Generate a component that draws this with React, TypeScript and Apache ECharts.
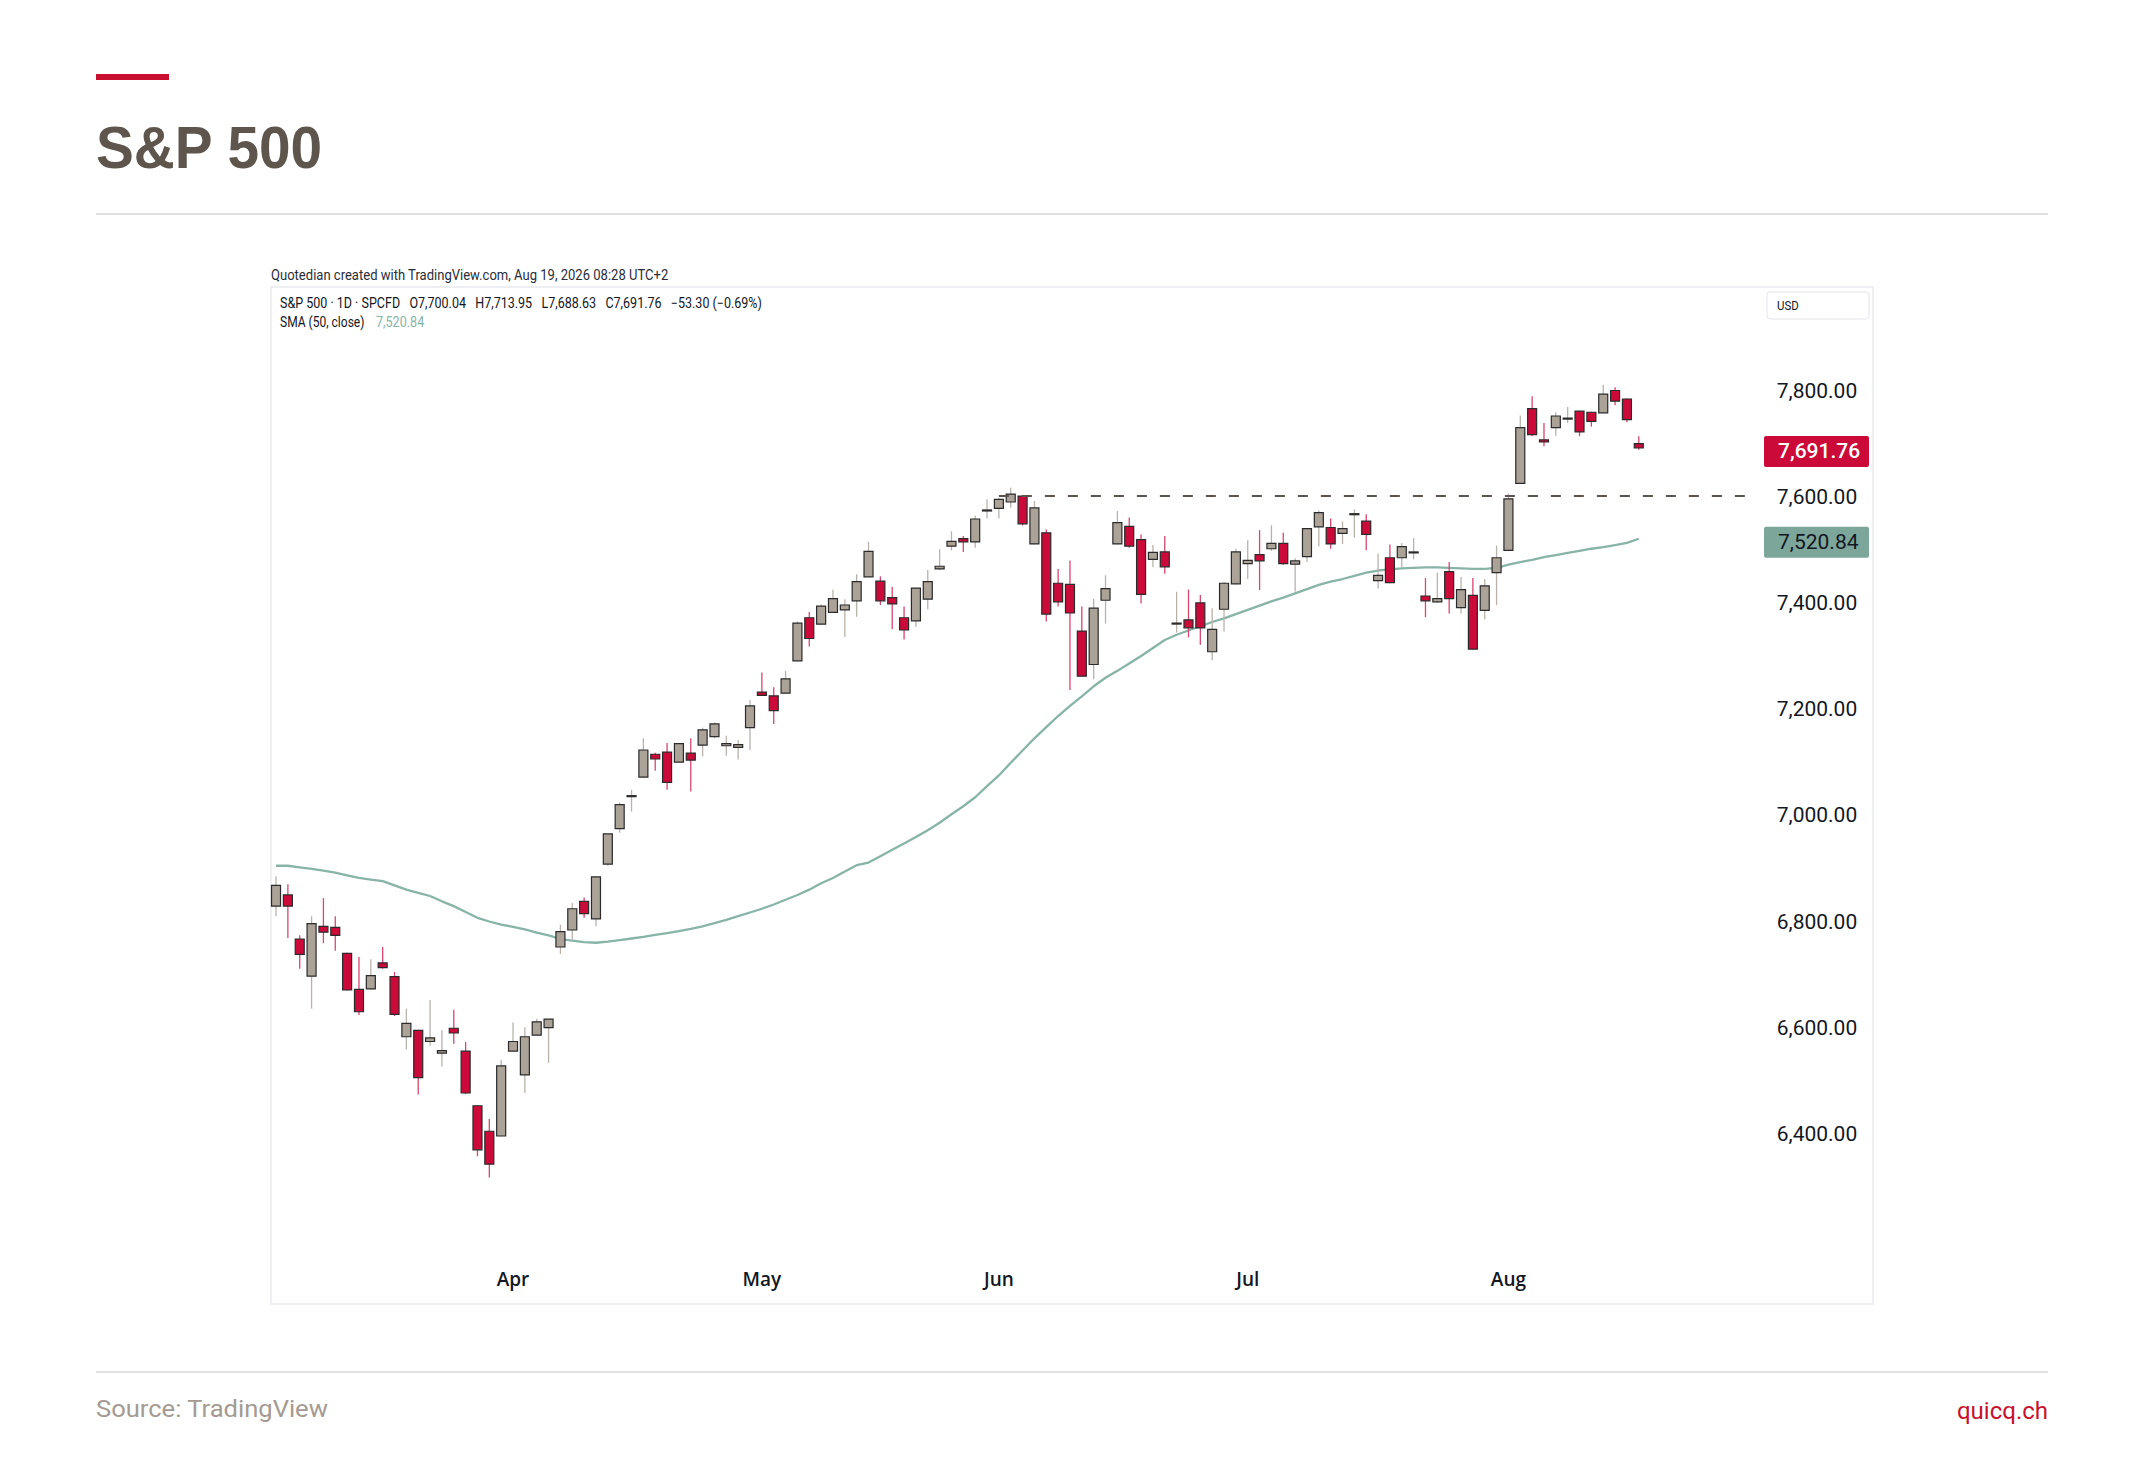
import React, { useEffect, useRef } from "react";
import * as echarts from "echarts";

const PAGE_W = 2145;
const PAGE_H = 1458;

const MONTH_NAMES = ["Jan", "Feb", "Mar", "Apr", "May", "Jun", "Jul", "Aug", "Sep", "Oct", "Nov", "Dec"];

// Trading days shown on the chart (2026)
const MAR_DAYS = [4, 5, 6, 9, 10, 11, 12, 13, 16, 17, 18, 19, 20, 23, 24, 25, 26, 27, 30, 31];
const APR_DAYS = [1, 2, 6, 7, 8, 9, 10, 13, 14, 15, 16, 17, 20, 21, 22, 23, 24, 27, 28, 29, 30];
const MAY_DAYS = [1, 4, 5, 6, 7, 8, 11, 12, 13, 14, 15, 18, 19, 20, 21, 22, 26, 27, 28, 29];
const JUN_DAYS = [1, 2, 3, 4, 5, 8, 9, 10, 11, 12, 15, 16, 17, 18, 22, 23, 24, 25, 26, 29, 30];
const JUL_DAYS = [1, 2, 6, 7, 8, 9, 10, 13, 14, 15, 16, 17, 20, 21, 22, 23, 24, 27, 28, 29, 30, 31];
const AUG_DAYS = [3, 4, 5, 6, 7, 10, 11, 12, 13, 14, 17, 18];

const pad = (n: number) => (n < 10 ? "0" + n : "" + n);
const DATES: string[] = [
  ...MAR_DAYS.map((d) => `2026-03-${pad(d)}`),
  ...APR_DAYS.map((d) => `2026-04-${pad(d)}`),
  ...MAY_DAYS.map((d) => `2026-05-${pad(d)}`),
  ...JUN_DAYS.map((d) => `2026-06-${pad(d)}`),
  ...JUL_DAYS.map((d) => `2026-07-${pad(d)}`),
  ...AUG_DAYS.map((d) => `2026-08-${pad(d)}`),
];
const RIGHT_PAD_SLOTS = 10; // empty space to the right of the last candle

const OPEN = [
  6829, 6850, 6767, 6697, 6791, 6789, 6740, 6672, 6673, 6722, 6696, 6583, 6595, 6574, 6552, 6599, 6556, 6453, 6405, 6396,
  6556, 6511, 6586, 6600, 6752, 6784, 6838, 6805, 6908, 6975, 7036, 7072, 7115, 7119, 7100, 7117, 7132, 7148, 7131, 7128, 7165,
  7232, 7225, 7230, 7291, 7372, 7360, 7382, 7387, 7404, 7449, 7441, 7410, 7372, 7366, 7407, 7464, 7507, 7521, 7515, 7574,
  7578, 7590, 7601, 7511, 7532, 7437, 7435, 7347, 7284, 7405, 7511, 7544, 7519, 7482, 7496, 7361, 7368, 7400, 7308, 7388, 7436,
  7474, 7491, 7502, 7512, 7473, 7487, 7543, 7542, 7531, 7567, 7554, 7442, 7485, 7485, 7495, 7413, 7402, 7459, 7391, 7414, 7386, 7457,
  7499, 7625, 7766, 7707, 7730, 7747.5, 7761, 7759, 7758, 7800, 7784, 7700.04,
];
const HIGH = [
  6885, 6870, 6774, 6810, 6844, 6810, 6741, 6733, 6729, 6752, 6705, 6636, 6596, 6652, 6595, 6634, 6573, 6454, 6428, 6539,
  6610, 6601, 6617, 6616, 6794, 6835, 6845, 6884, 6965, 7024, 7048, 7145, 7118, 7136, 7136, 7145, 7165, 7175, 7150, 7142, 7217,
  7269, 7241, 7272, 7365, 7383, 7397, 7425, 7407, 7454, 7515, 7450, 7430, 7393, 7428, 7462, 7501, 7535, 7526, 7564, 7595,
  7598, 7617, 7602, 7592, 7538, 7464, 7480, 7393, 7408, 7452, 7573, 7561, 7529, 7509, 7526, 7421, 7425, 7415, 7390, 7440, 7502,
  7518, 7537, 7546, 7532, 7484, 7540, 7574, 7559, 7553, 7576, 7567, 7493, 7510, 7513, 7522, 7447, 7457, 7477, 7449, 7447, 7445, 7508,
  7606, 7753, 7789, 7739, 7759, 7769, 7762, 7760, 7811, 7806, 7785, 7713.95,
];
const LOW = [
  6810, 6769, 6711, 6636, 6759, 6745, 6670, 6624, 6672, 6711, 6622, 6559, 6474, 6566, 6527, 6570, 6475, 6358, 6318, 6395,
  6555, 6477, 6585, 6534, 6739, 6766, 6807, 6791, 6905, 6967, 7007, 7072, 7084, 7048, 7100, 7045, 7111, 7145, 7112, 7105, 7123,
  7225, 7172, 7229, 7290, 7318, 7359, 7382, 7336, 7374, 7449, 7396, 7351, 7331, 7355, 7388, 7462, 7499, 7496, 7504, 7559,
  7559, 7579, 7546, 7510, 7365, 7393, 7236, 7262, 7256, 7361, 7510, 7504, 7399, 7467, 7455, 7344, 7335, 7321, 7292, 7346, 7435,
  7445, 7424, 7498, 7472, 7421, 7477, 7506, 7502, 7511, 7523, 7499, 7427, 7437, 7467, 7482, 7373, 7400, 7380, 7380, 7312, 7369, 7396,
  7499, 7624, 7714, 7695, 7715, 7739, 7714, 7732, 7758, 7772, 7740, 7688.63,
];
const CLOSE = [
  6868, 6829, 6738, 6796, 6780, 6774, 6671, 6630, 6698, 6713, 6625, 6608, 6506, 6581, 6557, 6590, 6477, 6370, 6343, 6528,
  6574, 6583, 6611, 6616, 6781, 6824, 6815, 6884, 6965, 7020, 7037, 7123, 7106, 7062, 7135, 7104, 7161, 7172, 7135, 7133, 7206,
  7226, 7197, 7257, 7362, 7333, 7394, 7408, 7396, 7440, 7497, 7404, 7398, 7349, 7428, 7440, 7469, 7516, 7515, 7558, 7575,
  7595, 7605, 7549, 7579, 7379, 7402, 7381, 7262, 7390, 7427, 7551, 7507, 7416, 7495, 7468, 7362, 7353, 7353, 7350, 7437, 7496,
  7480, 7479, 7512, 7474, 7479, 7540, 7570, 7511, 7540, 7568, 7529, 7452, 7438, 7506, 7496, 7404, 7408, 7408, 7425, 7313, 7432, 7485,
  7596, 7730, 7717, 7703, 7752, 7748, 7722, 7742, 7793, 7780, 7745.06, 7691.76,
];
const SMA50 = [
  6905, 6905, 6902, 6899, 6896, 6892, 6887, 6882, 6879, 6876, 6868, 6860, 6854, 6848, 6838, 6829, 6818, 6807, 6800, 6794,
  6790, 6785, 6779, 6774, 6767, 6764, 6761, 6760, 6762, 6765, 6768, 6771, 6775, 6778, 6782, 6786, 6791, 6797, 6803, 6810, 6817,
  6824, 6832, 6841, 6850, 6860, 6872, 6882, 6894, 6906, 6911, 6923, 6935, 6947, 6959, 6972, 6986, 7002, 7017, 7034, 7055,
  7075, 7099, 7122, 7145, 7166, 7187, 7206, 7224, 7243, 7259, 7272, 7286, 7300, 7315, 7330, 7340, 7348, 7356, 7364, 7371, 7379,
  7387, 7395, 7403, 7410, 7418, 7426, 7434, 7440, 7445, 7451, 7457, 7461, 7463, 7465, 7466, 7467, 7467, 7466, 7465, 7464, 7464, 7466,
  7472, 7477, 7481, 7486, 7490, 7494, 7498, 7502, 7505, 7509, 7513, 7520.84,
];

const RESISTANCE = 7601;
const RESISTANCE_FROM = 61;
const RESISTANCE_TO = 124;

const Y_MIN = 6200;
const Y_MAX = 8000;
const Y_STEP = 200;

const COLORS = {
  up: "#aba298",
  down: "#cc0a3a",
  border: "#2b2b2b",
  wickUp: "#b9b2aa",
  wickDown: "#d9466f",
  sma: "#88b4a7",
  smaBox: "#7da69b",
  text: "#131722",
  title: "#5e554c",
  accent: "#c8102e",
  rule: "#d6d6d6",
  frame: "#e8eaee",
  source: "#a39a92",
  dash: "#5b5450",
};

const fmt = (v: number) =>
  v.toLocaleString("en-US", { minimumFractionDigits: 2, maximumFractionDigits: 2 });

export default function App() {
  const ref = useRef<HTMLDivElement>(null);

  useEffect(() => {
    if (!ref.current) return;
    const chart = echarts.init(ref.current, undefined, { renderer: "svg" });

    const n = CLOSE.length;
    const last = n - 1;
    const lastClose = CLOSE[last];
    const prevClose = CLOSE[last - 1];
    const change = lastClose - prevClose;
    const pct = (change / prevClose) * 100;
    const minus = (v: number) => (v < 0 ? "\u2212" + fmt(Math.abs(v)) : fmt(v));
    const headerLine =
      `S&P 500 \u00b7 1D \u00b7 SPCFD   O${fmt(OPEN[last])}   H${fmt(HIGH[last])}   L${fmt(LOW[last])}   C${fmt(lastClose)}   ` +
      `${minus(change)} (${pct < 0 ? "\u2212" : ""}${Math.abs(pct).toFixed(2)}%)`;

    const categories = [...DATES, ...Array.from({ length: RIGHT_PAD_SLOTS }, () => "")];
    const monthStart = new Set<number>();
    DATES.forEach((d, i) => {
      if (i > 0 && d.slice(5, 7) !== DATES[i - 1].slice(5, 7)) monthStart.add(i);
    });

    const candleData = CLOSE.map((c, i) => [i, OPEN[i], c, LOW[i], HIGH[i]]);

    // geometry (page pixels)
    const gridLeft = 270.1;
    const gridRight = 1763.2;
    const yTop = 284.3; // Y_MAX
    const yBottom = 1240.1; // Y_MIN
    const ruleEnd = 2048;

    const baseGraphic: any[] = [
      { type: "rect", shape: { x: 96, y: 74, width: 73, height: 6 }, style: { fill: COLORS.accent } },
      {
        type: "text",
        x: 96,
        y: 146.5,
        scaleX: 0.946,
        style: {
          text: "S&P 500",
          fill: COLORS.title,
          font: "bold 60px 'Liberation Sans', Arial, sans-serif",
          align: "left",
          verticalAlign: "middle",
        },
      },
      { type: "line", shape: { x1: 96, y1: 214, x2: ruleEnd, y2: 214 }, style: { stroke: COLORS.rule, lineWidth: 1.5 } },
      {
        type: "text",
        x: 271,
        y: 275,
        scaleX: 0.87,
        style: {
          text: "Quotedian created with TradingView.com, Aug 19, 2026 08:28 UTC+2",
          fill: "#2a2e39",
          font: "15px Roboto, sans-serif",
          align: "left",
          verticalAlign: "middle",
        },
      },
      {
        type: "rect",
        shape: { x: 271, y: 287, width: 1602, height: 1017 },
        style: { fill: "none", stroke: COLORS.frame, lineWidth: 1.5 },
        silent: true,
      },
      {
        type: "text",
        x: 280,
        y: 303,
        scaleX: 0.895,
        style: { text: headerLine, fill: COLORS.text, font: "14px Roboto, sans-serif", align: "left", verticalAlign: "middle" },
      },
      {
        type: "text",
        x: 280,
        y: 322,
        scaleX: 0.86,
        style: { text: "SMA (50, close)", fill: COLORS.text, font: "14px Roboto, sans-serif", align: "left", verticalAlign: "middle" },
      },
      {
        type: "text",
        x: 376,
        y: 322,
        scaleX: 0.9,
        style: { text: fmt(SMA50[last]), fill: COLORS.sma, font: "14px Roboto, sans-serif", align: "left", verticalAlign: "middle" },
      },
      {
        type: "rect",
        shape: { x: 1767, y: 292, width: 102, height: 27, r: 3 },
        style: { fill: "#ffffff", stroke: "#e3e5ea", lineWidth: 1 },
      },
      {
        type: "text",
        x: 1777,
        y: 306,
        scaleX: 0.88,
        style: { text: "USD", fill: COLORS.text, font: "13px Roboto, sans-serif", align: "left", verticalAlign: "middle" },
      },
      { type: "line", shape: { x1: 96, y1: 1372, x2: ruleEnd, y2: 1372 }, style: { stroke: COLORS.rule, lineWidth: 1.5 } },
      {
        type: "text",
        x: 96,
        y: 1409,
        scaleX: 1.065,
        style: {
          text: "Source: TradingView",
          fill: COLORS.source,
          font: "24px Roboto, sans-serif",
          align: "left",
          verticalAlign: "middle",
        },
      },
      {
        type: "text",
        x: ruleEnd,
        y: 1411,
        style: { text: "quicq.ch", fill: COLORS.accent, font: "24px Roboto, sans-serif", align: "right", verticalAlign: "middle" },
      },
    ];

    const option: any = {
      animation: false,
      backgroundColor: "#ffffff",
      grid: {
        left: gridLeft,
        right: PAGE_W - gridRight,
        top: yTop,
        bottom: PAGE_H - yBottom,
        containLabel: false,
      },
      xAxis: {
        type: "category",
        data: categories,
        boundaryGap: true,
        axisLine: { show: false },
        axisTick: { show: false },
        splitLine: { show: false },
        axisLabel: {
          interval: (index: number) => monthStart.has(index),
          formatter: (v: string) => (v ? MONTH_NAMES[parseInt(v.slice(5, 7), 10) - 1] : ""),
          color: COLORS.text,
          fontSize: 19,
          lineHeight: 20,
          fontWeight: 600,
          fontFamily: "'Open Sans', Roboto, sans-serif",
          margin: 29,
        },
      },
      yAxis: {
        type: "value",
        position: "right",
        min: Y_MIN,
        max: Y_MAX,
        interval: Y_STEP,
        axisLine: { show: false },
        axisTick: { show: false },
        splitLine: { show: false },
        axisLabel: {
          formatter: (v: number) => (v === Y_MIN || v === Y_MAX ? "" : fmt(v)),
          color: COLORS.text,
          fontSize: 21,
          fontFamily: "Roboto, 'Open Sans', sans-serif",
          margin: 13.5,
          align: "left",
        },
      },
      series: [
        {
          type: "custom",
          name: "S&P 500",
          data: candleData,
          encode: { x: 0, y: [1, 2, 3, 4] },
          renderItem: (params: any, api: any) => {
            const i = api.value(0);
            const o = api.value(1);
            const c = api.value(2);
            const l = api.value(3);
            const h = api.value(4);
            const pO = api.coord([i, o]);
            const pC = api.coord([i, c]);
            const pL = api.coord([i, l]);
            const pH = api.coord([i, h]);
            const up = c >= o;
            const w = api.size([1, 0])[0] * 0.76;
            const x = pO[0];
            const top = Math.min(pO[1], pC[1]);
            const bot = Math.max(pO[1], pC[1]);
            const bh = Math.max(bot - top, 1);
            return {
              type: "group",
              children: [
                {
                  type: "line",
                  shape: { x1: x, y1: pH[1], x2: x, y2: pL[1] },
                  style: { stroke: up ? COLORS.wickUp : COLORS.wickDown, lineWidth: 1.3 },
                },
                {
                  type: "rect",
                  shape: { x: x - w / 2, y: top, width: w, height: bh },
                  style: { fill: up ? COLORS.up : COLORS.down, stroke: COLORS.border, lineWidth: 1.2 },
                },
              ],
            };
          },
          z: 3,
        },
        {
          type: "line",
          name: "SMA (50, close)",
          data: SMA50,
          showSymbol: false,
          symbol: "none",
          smooth: false,
          lineStyle: { color: COLORS.sma, width: 2.3 },
          z: 2,
          markLine: {
            silent: true,
            symbol: ["none", "none"],
            animation: false,
            label: { show: false },
            data: [
              [
                {
                  coord: [RESISTANCE_FROM, RESISTANCE],
                  lineStyle: { color: COLORS.dash, width: 2, type: [10, 13] },
                },
                { coord: [RESISTANCE_TO, RESISTANCE] },
              ],
            ],
          },
        },
      ],
      graphic: baseGraphic,
    };

    chart.setOption(option);

    // price tags on the price scale, placed with the axis' own scale
    const TAG_SHIFT = 3.5;
    const tag = (value: number, fill: string, textFill: string, weight: string) => {
      const py = (chart.convertToPixel({ yAxisIndex: 0 }, value) as number) + TAG_SHIFT;
      return [
        {
          type: "rect",
          shape: { x: 1764, y: py - 15.5, width: 105, height: 31, r: 2 },
          style: { fill },
          z: 100,
        },
        {
          type: "text",
          x: 1778,
          y: py,
          z: 101,
          style: {
            text: fmt(value),
            fill: textFill,
            font: `${weight} 21px Roboto, sans-serif`,
            align: "left",
            verticalAlign: "middle",
          },
        },
      ];
    };

    chart.setOption({
      graphic: [
        ...baseGraphic,
        ...tag(lastClose, COLORS.down, "#ffffff", "500"),
        ...tag(SMA50[last], COLORS.smaBox, COLORS.text, "400"),
      ],
    });

    return () => {
      chart.dispose();
    };
  }, []);

  return (
    <div
      style={{
        position: "absolute",
        left: 0,
        top: 0,
        width: PAGE_W,
        height: PAGE_H,
        background: "#ffffff",
        overflow: "hidden",
      }}
    >
      <div ref={ref} style={{ width: PAGE_W, height: PAGE_H }} />
    </div>
  );
}
